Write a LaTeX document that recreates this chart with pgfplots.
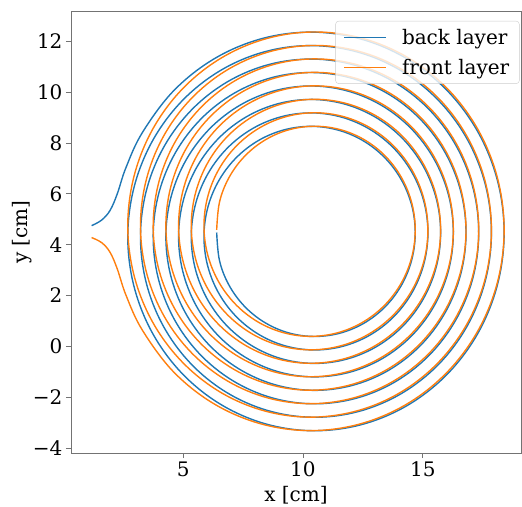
\documentclass[border=0pt]{standalone}
\usepackage{fontspec}
\setmainfont{DejaVu Serif}
\usepackage{pgfplots}
\pgfplotsset{compat=1.18}
\definecolor{tabblue}{HTML}{1F77B4}
\definecolor{taborange}{HTML}{FF7F0E}
\begin{document}
\begin{tikzpicture}
\begin{axis}[
  scale only axis, width=450pt, height=442pt,
  xmin=0.32, xmax=19.1, ymin=-4.2, ymax=13.2,
  xtick={5,10,15}, ytick={-4,-2,0,2,4,6,8,10,12},
  xticklabels={5,10,15},
  yticklabels={−4,−2,0,2,4,6,8,10,12},
  tick pos=left, tick align=outside, major tick length=5pt,
  axis line style={black!55, line width=0.8pt},
  every tick/.style={black!55, line width=0.8pt},
  tick label style={font=\fontsize{20}{24}\selectfont, text=black},
  label style={font=\fontsize{20}{24}\selectfont},
  xlabel={x [cm]}, ylabel={y [cm]},
  xlabel style={at={(axis description cs:0.5,-0.095)}, anchor=center},
  ylabel style={at={(axis description cs:-0.109,0.5)}, anchor=center},
  legend style={at={(axis description cs:1,1)}, anchor=north east, xshift=-1.5pt, yshift=-10pt,
    draw=black!20, rounded corners=3pt, fill=white, fill opacity=0.8, text opacity=1,
    font=\fontsize{20}{24}\selectfont, inner xsep=8pt, inner ysep=6pt, row sep=9pt,
    /tikz/every odd column/.append style={column sep=14pt}},
  legend cell align=left,
  legend image code/.code={\draw[mark repeat=2, mark phase=2, #1] plot coordinates {(0pt,0pt) (20.5pt,0pt) (41pt,0pt)};},
]
\addplot[tabblue, line width=1.4pt, smooth, tension=0.6] coordinates {
(6.400,4.48) (6.515,3.383) (6.899,2.433) (7.528,1.607) (8.361,0.962) (9.344,0.545) (10.41,0.388) (11.488,0.503) (12.503,0.886) (13.386,1.513) (14.074,2.345) (14.518,3.326) (14.685,4.39) (14.561,5.466) (14.150,6.480) (13.480,7.361) (12.592,8.047) (11.545,8.491) (10.41,8.658) (9.264,8.533) (8.184,8.124) (7.247,7.454) (6.517,6.568) (6.046,5.523)
(5.870,4.39) (6.003,3.246) (6.440,2.168) (7.153,1.232) (8.096,0.503) (9.206,0.033) (10.41,-0.143) (11.625,-0.009) (12.768,0.427) (13.761,1.138) (14.533,2.080) (15.030,3.188) (15.215,4.39) (15.073,5.603) (14.609,6.745) (13.855,7.736) (12.857,8.506) (11.682,9.003) (10.41,9.188) (9.126,9.045) (7.919,8.583) (6.872,7.829) (6.058,6.833) (5.534,5.660)
(5.340,4.39) (5.492,3.108) (5.981,1.903) (6.778,0.857) (7.831,0.044) (9.069,-0.479) (10.41,-0.673) (11.762,-0.521) (13.033,-0.032) (14.136,0.763) (14.992,1.815) (15.542,3.051) (15.745,4.39) (15.584,5.740) (15.068,7.010) (14.229,8.110) (13.122,8.965) (11.819,9.515) (10.41,9.718) (8.989,9.557) (7.654,9.042) (6.497,8.204) (5.599,7.098) (5.022,5.797)
(4.810,4.39) (4.980,2.971) (5.522,1.638) (6.403,0.482) (7.566,-0.415) (8.932,-0.991) (10.41,-1.203) (11.899,-1.033) (13.298,-0.491) (14.510,0.389) (15.451,1.550) (16.054,2.914) (16.275,4.39) (16.096,5.877) (15.527,7.275) (14.604,8.485) (13.387,9.424) (11.956,10.026) (10.41,10.248) (8.852,10.069) (7.389,9.501) (6.122,8.579) (5.140,7.363) (4.510,5.935)
(4.280,4.39) (4.468,2.834) (5.063,1.373) (6.029,0.108) (7.301,-0.874) (8.795,-1.502) (10.41,-1.733) (12.037,-1.545) (13.563,-0.950) (14.885,0.014) (15.910,1.285) (16.566,2.777) (16.805,4.39) (16.608,6.015) (15.986,7.540) (14.979,8.860) (13.652,9.883) (12.094,10.538) (10.41,10.778) (8.715,10.581) (7.124,9.960) (5.748,8.954) (4.681,7.628) (3.998,6.072)
(3.750,4.39) (3.956,2.697) (4.604,1.108) (5.654,-0.267) (7.036,-1.333) (8.658,-2.014) (10.41,-2.263) (12.174,-2.057) (13.828,-1.409) (15.260,-0.361) (16.369,1.020) (17.078,2.640) (17.335,4.39) (17.120,6.152) (16.445,7.805) (15.354,9.235) (13.917,10.342) (12.231,11.050) (10.41,11.308) (8.578,11.093) (6.859,10.419) (5.373,9.328) (4.222,7.893) (3.487,6.209)
(3.220,4.39) (3.444,2.560) (4.145,0.843) (5.279,-0.642) (6.771,-1.792) (8.521,-2.526) (10.41,-2.793) (12.311,-2.569) (14.093,-1.868) (15.635,-0.736) (16.828,0.755) (17.589,2.503) (17.865,4.39) (17.632,6.289) (16.904,8.070) (15.728,9.609) (14.182,10.801) (12.368,11.562) (10.41,11.838) (8.441,11.605) (6.594,10.878) (4.998,9.703) (3.763,8.158) (2.975,6.346)
(2.690,4.39) (2.932,2.423) (3.686,0.578) (4.904,-1.017) (6.506,-2.251) (8.384,-3.038) (10.41,-3.323) (12.448,-3.081) (14.358,-2.327) (16.009,-1.110) (17.287,0.490) (18.101,2.365) (18.395,4.39) (18.144,6.426) (17.363,8.335) (16.103,9.984) (14.447,11.260) (12.505,12.074) (10.41,12.368) (8.303,12.117) (6.329,11.337) (4.623,10.078) (3.304,8.423)
(2.62,7.05) (2.25,6.00) (1.95,5.35) (1.60,4.97) (1.18,4.75)
};
\addlegendentry{back layer}
\addplot[taborange, line width=1.4pt, smooth, tension=0.6] coordinates {
(6.400,4.58) (6.515,5.667) (6.899,6.617) (7.528,7.443) (8.361,8.088) (9.344,8.505) (10.41,8.662) (11.488,8.547) (12.503,8.164) (13.386,7.537) (14.074,6.705) (14.518,5.724) (14.685,4.66) (14.561,3.584) (14.150,2.570) (13.480,1.689) (12.592,1.003) (11.545,0.559) (10.41,0.392) (9.264,0.517) (8.184,0.926) (7.247,1.596) (6.517,2.482) (6.046,3.527)
(5.870,4.66) (6.003,5.804) (6.440,6.882) (7.153,7.818) (8.096,8.547) (9.206,9.017) (10.41,9.193) (11.625,9.059) (12.768,8.623) (13.761,7.912) (14.533,6.970) (15.030,5.862) (15.215,4.66) (15.073,3.447) (14.609,2.305) (13.855,1.314) (12.857,0.544) (11.682,0.047) (10.41,-0.138) (9.126,0.005) (7.919,0.467) (6.872,1.221) (6.058,2.217) (5.534,3.390)
(5.340,4.66) (5.492,5.942) (5.981,7.147) (6.778,8.193) (7.831,9.006) (9.069,9.529) (10.41,9.723) (11.762,9.571) (13.033,9.082) (14.136,8.287) (14.992,7.235) (15.542,5.999) (15.745,4.66) (15.584,3.310) (15.068,2.040) (14.229,0.940) (13.122,0.085) (11.819,-0.465) (10.41,-0.668) (8.989,-0.507) (7.654,0.008) (6.497,0.846) (5.599,1.952) (5.022,3.253)
(4.810,4.66) (4.980,6.079) (5.522,7.412) (6.403,8.568) (7.566,9.465) (8.932,10.041) (10.41,10.253) (11.899,10.083) (13.298,9.541) (14.510,8.661) (15.451,7.500) (16.054,6.136) (16.275,4.66) (16.096,3.173) (15.527,1.775) (14.604,0.565) (13.387,-0.374) (11.956,-0.976) (10.41,-1.198) (8.852,-1.019) (7.389,-0.451) (6.122,0.471) (5.140,1.687) (4.510,3.115)
(4.280,4.66) (4.468,6.216) (5.063,7.677) (6.029,8.942) (7.301,9.924) (8.795,10.552) (10.41,10.783) (12.037,10.595) (13.563,10.000) (14.885,9.036) (15.910,7.765) (16.566,6.273) (16.805,4.66) (16.608,3.035) (15.986,1.510) (14.979,0.190) (13.652,-0.833) (12.094,-1.488) (10.41,-1.728) (8.715,-1.531) (7.124,-0.910) (5.748,0.096) (4.681,1.422) (3.998,2.978)
(3.750,4.66) (3.956,6.353) (4.604,7.942) (5.654,9.317) (7.036,10.383) (8.658,11.064) (10.41,11.313) (12.174,11.107) (13.828,10.459) (15.260,9.411) (16.369,8.030) (17.078,6.410) (17.335,4.66) (17.120,2.898) (16.445,1.245) (15.354,-0.185) (13.917,-1.292) (12.231,-2.000) (10.41,-2.258) (8.578,-2.043) (6.859,-1.369) (5.373,-0.278) (4.222,1.157) (3.487,2.841)
(3.220,4.66) (3.444,6.490) (4.145,8.207) (5.279,9.692) (6.771,10.842) (8.521,11.576) (10.41,11.843) (12.311,11.619) (14.093,10.918) (15.635,9.786) (16.828,8.295) (17.589,6.547) (17.865,4.66) (17.632,2.761) (16.904,0.980) (15.728,-0.559) (14.182,-1.751) (12.368,-2.512) (10.41,-2.788) (8.441,-2.555) (6.594,-1.828) (4.998,-0.653) (3.763,0.892) (2.975,2.704)
(2.690,4.66) (2.932,6.627) (3.686,8.472) (4.904,10.067) (6.506,11.301) (8.384,12.088) (10.41,12.373) (12.448,12.131) (14.358,11.377) (16.009,10.160) (17.287,8.560) (18.101,6.685) (18.395,4.66) (18.144,2.624) (17.363,0.715) (16.103,-0.934) (14.447,-2.210) (12.505,-3.024) (10.41,-3.318) (8.303,-3.067) (6.329,-2.287) (4.623,-1.028) (3.304,0.627)
(2.62,2.00) (2.25,3.05) (1.95,3.70) (1.60,4.08) (1.18,4.28)
};
\addlegendentry{front layer}
\end{axis}
\pgfresetboundingbox
\path (current axis.south west) ++(-71pt,-53pt) rectangle ([xshift=1pt,yshift=11pt]current axis.north east);
\end{tikzpicture}
\end{document}
